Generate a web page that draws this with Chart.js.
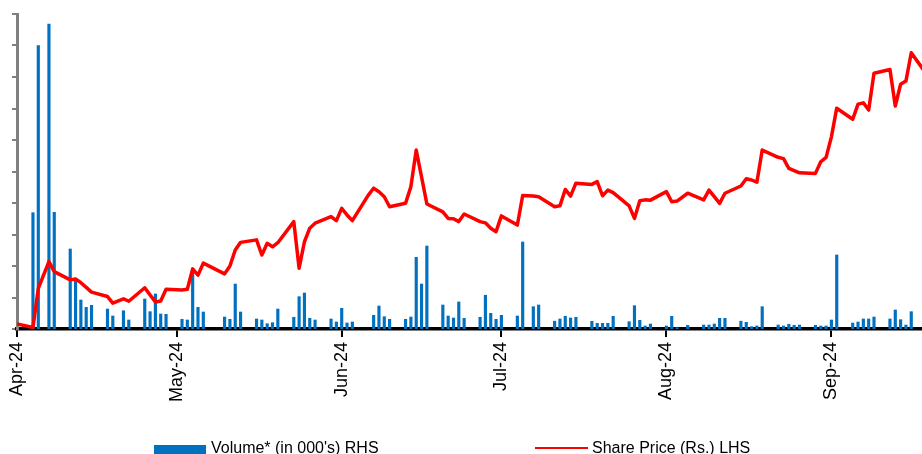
<!DOCTYPE html>
<html>
<head>
<meta charset="utf-8">
<script src="https://cdn.jsdelivr.net/npm/chart.js@4"></script>
<style>
  body { margin: 0; background: #fff; }
  #wrap { position: relative; width: 922px; height: 454px; overflow: hidden; }
  #chart { position: absolute; left: 0; top: 0; }
  .lg { position: absolute; font: 16px "Liberation Sans", Arial, sans-serif; line-height: 16px; color: #000; white-space: nowrap; }
  .box { position: absolute; left: 154px; top: 445px; width: 52px; height: 9px; background: #0070C0; }
  .ln { position: absolute; left: 535px; top: 446.5px; width: 53px; height: 2.5px; background: #FF0000; }
</style>
</head>
<body>
<div id="wrap">
  <canvas id="chart" width="940" height="454"></canvas>
  <div class="box"></div>
  <div class="lg" id="lgVol" style="left:211px; top:439.5px;"></div>
  <div class="ln"></div>
  <div class="lg" id="lgPrice" style="left:592px; top:439.5px;"></div>
</div>
<script>
// day offsets from the start of the axis (Apr-24 tick = day 0)
const priceDays = [0, 3, 4, 6, 7, 10, 11, 12, 13, 14, 17, 18, 20, 21, 24, 25, 26, 27, 28,
  31, 32, 33, 34, 35, 39, 40, 41, 42, 45, 46, 47, 48, 49, 52, 53, 54, 55, 56, 59, 60, 61, 62, 63,
  66, 67, 68, 69, 70, 73, 74, 75, 76, 77, 80, 81, 82, 83, 84, 87, 88, 89, 90, 91, 94, 95, 97, 98,
  101, 102, 103, 104, 105, 108, 109, 110, 111, 112, 115, 116, 117, 118, 119, 122, 123, 124, 126,
  129, 130, 131, 132, 133, 136, 137, 138, 139, 140, 143, 144, 145, 146, 147, 150, 151, 152, 153, 154,
  157, 158, 159, 160, 161, 164, 165, 166, 167, 168, 171];
const priceValues = [1.6, 0.5, 12.9, 21.4, 18.2, 15.6, 15.9, 14.7, 13.2, 11.7, 10.3, 8.2, 9.6, 8.8, 13.1, 10.8, 8.6, 8.9, 12.6,
  12.4, 12.6, 19.1, 17.1, 20.9, 17.5, 20.0, 25.1, 27.5, 28.3, 23.5, 27.2, 26.1, 27.4, 34.1, 19.3, 27.7, 32.0, 33.6, 35.7, 34.4, 38.3, 36.2, 34.4,
  42.5, 44.7, 43.6, 42.0, 38.8, 39.9, 45.2, 56.8, 48.3, 39.7, 37.2, 35.1, 35.0, 34.1, 36.5, 34.1, 33.7, 32.0, 30.9, 35.9, 33.0, 42.4, 42.2, 42.0,
  38.8, 39.1, 44.3, 42.2, 46.3, 45.9, 46.8, 42.3, 44.1, 43.3, 39.1, 35.1, 40.7, 41.0, 40.9, 43.6, 40.4, 40.6, 43.1,
  41.0, 44.1, 42.0, 39.9, 43.1, 45.4, 47.7, 47.3, 46.6, 56.8, 54.5, 54.1, 51.0, 50.3, 49.6, 49.4, 53.1, 54.5, 61.0, 70.1,
  66.6, 71.4, 71.8, 69.5, 81.2, 82.4, 70.8, 77.7, 78.7, 87.7, 80.6];

const volumeDays = [3, 4, 6, 7, 10, 11, 12, 13, 14, 17, 18, 20, 21, 24, 25, 26, 27, 28,
  31, 32, 33, 34, 35, 39, 40, 41, 42, 45, 46, 47, 48, 49, 52, 53, 54, 55, 56, 59, 60, 61, 62, 63,
  67, 68, 69, 70, 73, 74, 75, 76, 77, 80, 81, 82, 83, 84, 87, 88, 89, 90, 91, 94, 95, 97, 98,
  101, 102, 103, 104, 105, 108, 109, 110, 111, 112, 115, 116, 117, 118, 119, 122, 123, 124, 126,
  129, 130, 131, 132, 133, 136, 137, 138, 139, 140, 143, 144, 145, 146, 147, 150, 151, 152, 153, 154,
  157, 158, 159, 160, 161, 164, 165, 166, 167, 168];
const volumeValues = [184.6, 449.7, 484.1, 185.2, 127.0, 77.8, 46.0, 34.4, 37.6, 31.7, 20.6, 29.0, 14.3, 47.6, 27.5, 55.6, 23.8, 23.3,
  15.4, 14.3, 88.9, 34.4, 27.0, 19.0, 15.4, 71.4, 27.0, 15.9, 14.3, 8.4, 10.0, 31.7, 18.6, 51.3, 57.1, 17.0, 14.3, 15.9, 11.1, 32.9, 9.5, 11.1,
  21.7, 36.5, 19.5, 15.4, 15.4, 19.0, 113.8, 71.4, 131.7, 38.1, 20.6, 17.5, 42.9, 17.0, 18.6, 53.5, 24.9, 15.4, 21.7, 20.6, 138.1, 35.4, 38.1,
  12.4, 15.9, 20.2, 17.5, 18.6, 12.2, 9.0, 9.0, 9.0, 20.2, 11.6, 37.0, 13.8, 4.8, 7.9, 4.8, 20.2, 2.1, 5.9,
  6.3, 6.3, 7.9, 17.0, 17.0, 12.4, 10.6, 3.7, 4.8, 35.4, 6.3, 4.8, 7.5, 5.9, 6.3, 5.9, 4.8, 4.8, 14.3, 117.5,
  9.5, 11.1, 15.9, 15.9, 19.0, 15.9, 30.2, 14.8, 6.3, 27.5];

const monthTickDays = [0, 30, 61, 91, 122, 153];
const monthTickLabels = ["Apr-24", "May-24", "Jun-24", "Jul-24", "Aug-24", "Sep-24"];
const seriesNames = ["Volume* (in 000's) RHS", "Share Price (Rs.) LHS"];

document.getElementById("lgVol").textContent = seriesNames[0];
document.getElementById("lgPrice").textContent = seriesNames[1];

Chart.defaults.font.family = "'Liberation Sans', Arial, sans-serif";
Chart.defaults.color = "#000";

const ctx = document.getElementById("chart").getContext("2d");
new Chart(ctx, {
  data: {
    datasets: [
      {
        type: "line",
        label: seriesNames[1],
        data: priceDays.map((d, i) => ({ x: d, y: priceValues[i] })),
        borderColor: "#FF0000",
        borderWidth: 3.5,
        pointRadius: 0,
        tension: 0,
        borderJoinStyle: "round",
        yAxisID: "y",
        order: 0,
      },
      {
        type: "bar",
        label: seriesNames[0],
        data: volumeDays.map((d, i) => ({ x: d, y: volumeValues[i] })),
        backgroundColor: "#0070C0",
        barThickness: 2.5,
        yAxisID: "y2",
        order: 1,
      },
    ],
  },
  options: {
    responsive: false,
    animation: false,
    devicePixelRatio: 1,
    layout: { padding: { top: 14, right: 0, left: 0, bottom: 0 } },
    plugins: { legend: { display: false }, tooltip: { enabled: false } },
    scales: {
      x: {
        type: "linear",
        min: 0,
        max: 173.4,
        offset: false,
        afterBuildTicks: (scale) => {
          scale.ticks = monthTickDays.map((v) => ({ value: v }));
        },
        afterFit: (scale) => {
          scale.height = 125;
        },
        ticks: {
          autoSkip: false,
          minRotation: 90,
          maxRotation: 90,
          padding: 5,
          font: { size: 18 },
          color: "#000",
          callback: (value) => monthTickLabels[monthTickDays.indexOf(value)],
        },
        grid: {
          display: true,
          offset: false,
          drawOnChartArea: false,
          drawTicks: true,
          tickLength: 8,
          color: "#000",
          lineWidth: 2,
        },
        border: { display: true, color: "#000", width: 3.5 },
      },
      y: {
        position: "left",
        min: 0,
        max: 100,
        afterBuildTicks: (scale) => {
          const t = [];
          for (let v = 0; v <= 100; v += 10) t.push({ value: v });
          scale.ticks = t;
        },
        afterFit: (scale) => {
          scale.width = 17;
        },
        ticks: { display: false },
        grid: {
          display: true,
          drawOnChartArea: false,
          drawTicks: true,
          tickLength: 5,
          color: "#808080",
          lineWidth: 2,
        },
        border: { display: true, color: "#808080", width: 3 },
      },
      y2: {
        position: "right",
        display: false,
        min: 0,
        max: 500,
      },
    },
  },
});
</script>
</body>
</html>
